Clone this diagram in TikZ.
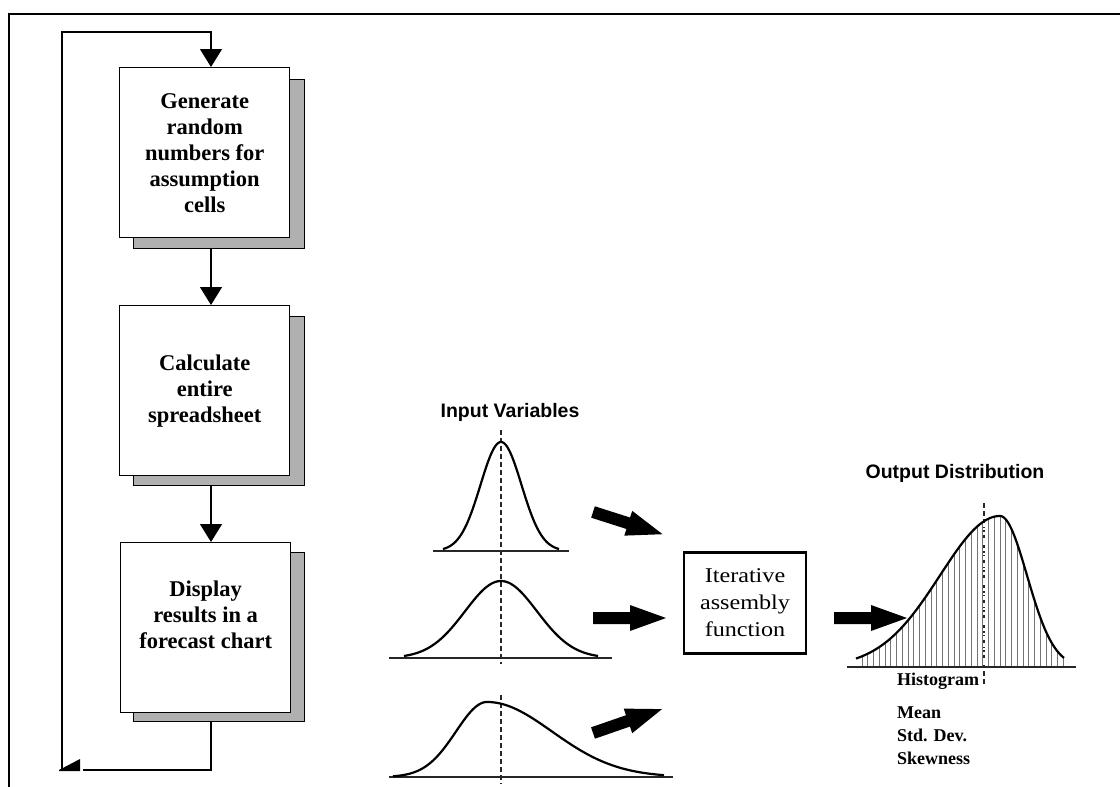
\documentclass[tikz,border=0pt]{standalone}
\usepackage{fontspec}
\setmainfont{Liberation Serif}
\newfontfamily\arialf{Liberation Sans}
\newfontfamily\palf[FakeStretch=1.15]{Liberation Serif}
\usetikzlibrary{arrows.meta,calc}
\begin{document}
\begin{tikzpicture}[x=1pt,y=-1pt,
  stepbox/.style={draw=black, line width=1.4pt, fill=white, minimum width=170pt, minimum height=170pt, inner sep=0pt, anchor=north west},
  shadowbox/.style={draw=black, line width=1.4pt, fill=gray!62, minimum width=171pt, minimum height=169pt, inner sep=0pt, anchor=north west},
  boxtext/.style={align=center, font=\bfseries\fontsize{22.5}{26}\selectfont},
  flow/.style={draw=black, line width=1.4pt, -{Triangle[width=22pt,length=18pt]}},
  plain/.style={draw=black, line width=1.4pt},
  curve/.style={draw=black, line width=2.2pt},
  axis/.style={draw=black!85, line width=1.2pt},
  vdash/.style={draw=black!85, line width=1.1pt, dash pattern=on 5pt off 3pt},
  title/.style={font=\arialf\bfseries\fontsize{19.5}{22}\selectfont, anchor=base},
  stat/.style={font=\bfseries\fontsize{18}{22}\selectfont, anchor=base west, inner sep=0pt},
  fatarrow/.pic={\fill[black] (0,-6) -- (37,-6) -- (37,-13) -- (73,0) -- (37,13) -- (37,6) -- (0,6) -- cycle;}
]
\useasboundingbox (0,0) rectangle (1120,787);
\fill[white] (0,0) rectangle (1120,787);
% frame
\draw[line width=2pt] (9,787) -- (9,14) -- (1120,14);

% flowchart boxes
\node[shadowbox] (s1) at (133,79) {};
\node[stepbox] (b1) at (119,67) {};
\node[boxtext] (t1) at (b1.center) {Generate\\random\\numbers for\\assumption\\cells};
\node[shadowbox] (s2) at (133,316) {};
\node[stepbox] (b2) at (119,305) {};
\node[boxtext] (t2) at (b2.center) {Calculate\\entire\\spreadsheet};
\node[shadowbox] (s3) at (133,552) {};
\node[stepbox] (b3) at (120,542) {};
\node[boxtext] (t3) at ($(b3.center)+(0,-13)$) {Display\\results in a\\forecast chart};

\coordinate (cx) at (211,0);
\coordinate (lb) at (62,770);
\coordinate (lt) at (62,32);
\coordinate (lr) at (83,770);
\draw[flow] (s1.south -| cx) -- (b2.north -| cx);
\draw[flow] (s2.south -| cx) -- (b3.north -| cx);
\draw[plain] (s3.south -| cx) |- (lr);
\fill[black] (59,770) -- (80,759) -- (80,771) -- (59,771) -- cycle;
\draw[flow] (lb) -- (lt) -| (b1.north -| cx);

% input variables
\node[title] (iv) at (510,417) {Input Variables};
\draw[axis] (433,551) -- (569,551);
\draw[axis] (389,658) -- (612,658);
\draw[axis] (389,777) -- (673,777);
\draw[vdash] (501,430) -- (501,664);
\draw[vdash] (501,695) -- (501,784);
\draw[curve] plot[domain=443:559, samples=90, smooth] (\x, {551 - 109*exp(-((\x-501)/20.5)^2/2)});
\draw[curve] plot[domain=404:598, samples=90, smooth] (\x, {658 - 77*exp(-((\x-501)/36)^2/2)});
\draw[curve] plot[domain=393:487, samples=60, smooth] (\x, {777 - 75*exp(-((\x-487)/31)^2/2)})
  -- plot[domain=487:664, samples=90, smooth] (\x, {777 - 75*exp(-((\x-487)/65)^2/2)});

% fat arrows
\pic[rotate=-17.7] at (593,512) {fatarrow};
\pic at (593,618) {fatarrow};
\pic[rotate=19.1] at (593,733) {fatarrow};
\pic at (834,618) {fatarrow};

% iterative box
\node[draw=black, line width=2.2pt, minimum width=122pt, minimum height=101pt, inner sep=0pt,
      align=center, font=\palf\fontsize{21}{27}\selectfont] (iter) at (745,603) {Iterative\\assembly\\function};

% output distribution
\node[title] (od) at (955,478) {Output Distribution};
\begin{scope}
  \clip plot[domain=856:1000, samples=80, smooth] (\x, {667 - 151*exp(-((\x-1000)/60)^2/2)})
    -- plot[domain=1000:1064, samples=60, smooth] (\x, {667 - 151*exp(-((\x-1000)/27)^2/2)})
    -- (1064,667) -- (856,667) -- cycle;
  \foreach \i in {0,...,35} \draw[black!55, line width=1pt] ({862+\i*5.75},668) -- ++(0,-170);
\end{scope}
\draw[vdash] (984,503) -- (984,684);
\begin{scope}
  \clip plot[domain=856:1000, samples=80, smooth] (\x, {667 - 151*exp(-((\x-1000)/60)^2/2)})
    -- plot[domain=1000:1064, samples=60, smooth] (\x, {667 - 151*exp(-((\x-1000)/27)^2/2)})
    -- (1064,667) -- (856,667) -- cycle;
  \draw[white, line width=1.2pt, dash pattern=on 2pt off 3pt] (984,503) -- (984,667);
\end{scope}
\draw[axis] (847,667) -- (1076,667);
\draw[curve] plot[domain=856:1000, samples=80, smooth] (\x, {667 - 151*exp(-((\x-1000)/60)^2/2)})
  -- plot[domain=1000:1064, samples=60, smooth] (\x, {667 - 151*exp(-((\x-1000)/27)^2/2)});
\node[stat] (hist) at (897,685) {Histogram};
\node[stat] (mean) at (897,718) {Mean};
\node[stat] (sd) at (897,741) {Std. Dev.};
\node[stat] (sk) at (897,764) {Skewness};
\end{tikzpicture}
\end{document}
